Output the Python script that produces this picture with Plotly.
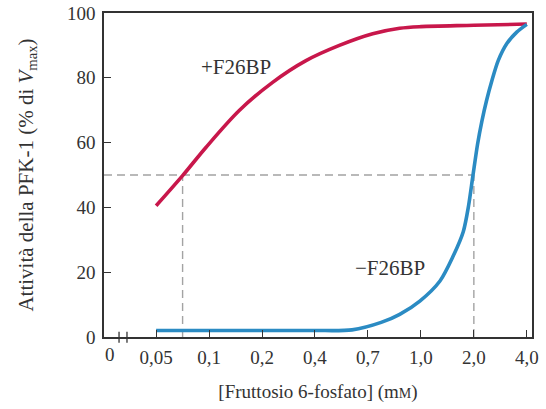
import numpy as np
import plotly.graph_objects as go

# ---- data ----
tick_conc = [0.05, 0.1, 0.2, 0.4, 0.7, 1.0, 2.0, 4.0]
tick_text = ["0,05", "0,1", "0,2", "0,4", "0,7", "1,0", "2,0", "4,0"]

plus_conc = [0.05, 0.075, 0.097, 0.157, 0.24, 0.366, 0.538, 0.727, 0.88, 1.0, 2.0, 4.0]
plus_act = [40.5, 49.8, 58.5, 69.9, 78.6, 85.3, 90.0, 93.6, 95.3, 95.8, 96.2, 96.6]

minus_conc = [0.05, 0.1, 0.2, 0.4, 0.61, 0.775, 0.88, 0.994, 1.36, 1.61, 1.80, 1.90,
              1.98, 2.14, 2.30, 2.48, 2.68, 2.92, 3.24, 3.62, 4.0]
minus_act = [2.0, 2.0, 2.0, 2.0, 2.2, 4.5, 7.0, 11.1, 17.3, 25.0, 32.5, 40.5,
             49.5, 59.5, 66.5, 73.0, 79.1, 85.3, 90.5, 94.1, 96.5]

half_activity = 50
khalf_plus = 0.075
khalf_minus = 2.0

# ---- broken, non-uniform x scale: each tick one unit apart ----
tick_pos = list(range(1, len(tick_conc) + 1))


def xscale(c):
    return np.interp(c, tick_conc, tick_pos)


zero_pos = 0.12
break_pos = [0.30, 0.45]
x_range = [0.016, 8.098]

FONT = "Liberation Serif"
RED = "#c8174b"
BLUE = "#2b8bc3"
GREY = "#a3a3a3"
FRAME = "#333333"

fig = go.Figure()

fig.add_trace(go.Scatter(x=xscale(plus_conc), y=plus_act, mode="lines",
                         line=dict(color=RED, width=3.6, shape="spline", smoothing=0.9),
                         hoverinfo="skip", showlegend=False))
fig.add_trace(go.Scatter(x=xscale(minus_conc), y=minus_act, mode="lines",
                         line=dict(color=BLUE, width=3.6, shape="spline", smoothing=0.8),
                         hoverinfo="skip", showlegend=False))

dash = dict(color=GREY, width=1.4, dash="8px,5px")
fig.add_shape(type="line", xref="x", yref="y", x0=x_range[0], x1=xscale(khalf_minus),
              y0=half_activity, y1=half_activity, line=dash, layer="below")
for k in (khalf_plus, khalf_minus):
    fig.add_shape(type="line", xref="x", yref="y", x0=xscale(k), x1=xscale(k),
                  y0=0, y1=half_activity, line=dash, layer="below")

# axis break marks
for bp in break_pos:
    fig.add_shape(type="line", xref="x", yref="paper", x0=bp, x1=bp,
                  y0=-0.018, y1=0.016, line=dict(color=FRAME, width=1.3))

fig.add_annotation(x=zero_pos, y=0, xref="x", yref="paper", text="0",
                   showarrow=False, yanchor="top", yshift=-5,
                   font=dict(family=FONT, size=19, color="#333"))

fig.add_annotation(x=2.51, y=83.3, text="+F26BP", showarrow=False,
                   font=dict(family=FONT, size=21, color="#333"))
fig.add_annotation(x=5.41, y=21.4, text="\u2212F26BP", showarrow=False,
                   font=dict(family=FONT, size=21, color="#333"))

fig.update_layout(
    template="none",
    width=546, height=409,
    margin=dict(l=104, r=14, t=13, b=72, autoexpand=False),
    paper_bgcolor="white", plot_bgcolor="white",
    font=dict(family=FONT, size=19, color="#333"),
    xaxis=dict(range=x_range, tickvals=tick_pos, ticktext=tick_text, automargin=False,
               ticks="inside", ticklen=7, tickwidth=1.2, tickcolor=FRAME,
               showline=True, linecolor=FRAME, linewidth=1.6, mirror=True,
               showgrid=False, zeroline=False, ticklabelstandoff=2,
               title=dict(text="[Fruttosio 6-fosfato] (m<span style='font-size:14px'>M</span>)",
                          standoff=18, font=dict(family=FONT, size=19))),
    yaxis=dict(range=[0, 100], tickvals=[0, 20, 40, 60, 80, 100], automargin=False,
               ticks="inside", ticklen=7, tickwidth=1.2, tickcolor=FRAME,
               showline=True, linecolor=FRAME, linewidth=1.6, mirror=True,
               showgrid=False, zeroline=False, ticklabelstandoff=3,
               title=dict(text="Attività della PFK-1 (% di <i>V</i><sub>max</sub>)",
                          standoff=28, font=dict(family=FONT, size=21))),
)

fig.write_html("out.html", config={"displayModeBar": False},
               post_script="document.body.style.margin='0';")
